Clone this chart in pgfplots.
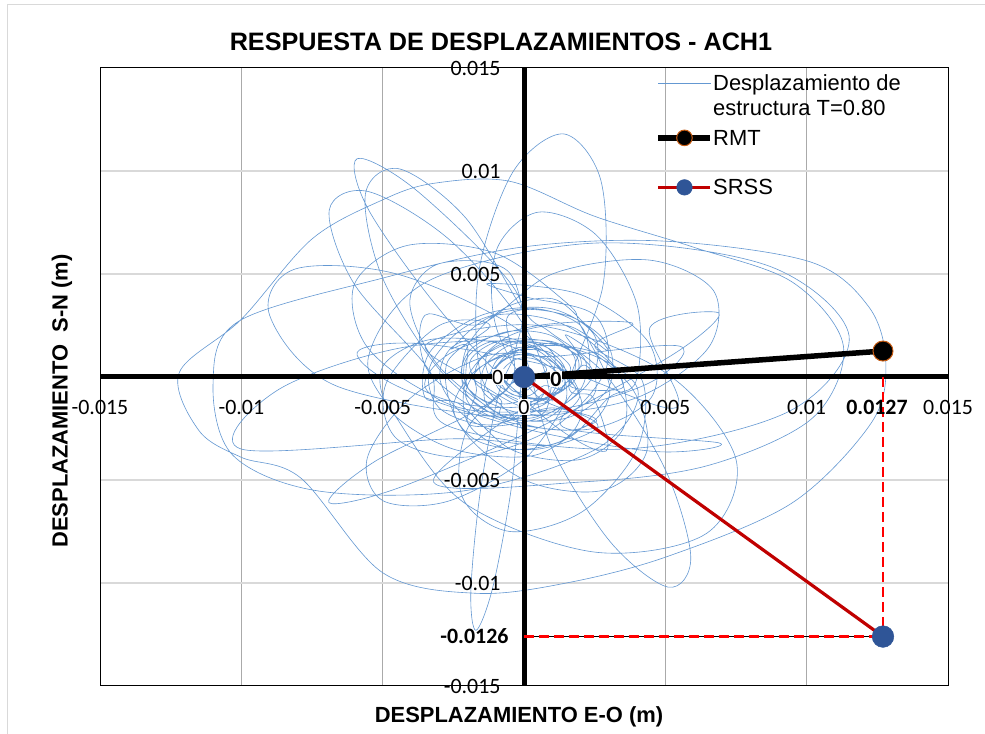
\documentclass[border=0pt]{standalone}
\usepackage{fontspec}
\setmainfont{Liberation Sans}
\newfontfamily\calibri{Carlito}
\usepackage{pgfplots}
\pgfplotsset{compat=1.18}
\definecolor{traj}{RGB}{100,152,210}
\definecolor{srssblue}{RGB}{47,85,151}
\definecolor{srssred}{RGB}{192,0,0}
\definecolor{rmtedge}{RGB}{197,90,17}
\definecolor{vgrid}{RGB}{170,170,170}
\definecolor{hgrid}{RGB}{217,217,217}
\newcommand{\tickf}{\calibri\fontsize{22}{24}\selectfont}
\newcommand{\tickb}{\calibri\bfseries\fontsize{22}{24}\selectfont}
\begin{document}
\begin{tikzpicture}
\path[use as bounding box] (0,0) rectangle (985bp,734bp);
\fill[white] (0,0) rectangle (985bp,734bp);
\draw[hgrid, line width=1bp] (7bp,0) -- (7bp,729bp) -- (985bp,729bp);
\node[font=\bfseries\fontsize{25.3}{29}\selectfont] at (501bp,692bp) {RESPUESTA DE DESPLAZAMIENTOS - ACH1};
\node[font=\bfseries\fontsize{22}{26}\selectfont] at (519bp,17bp) {DESPLAZAMIENTO E-O (m)};
\node[font=\bfseries\fontsize{22}{26}\selectfont, rotate=90] at (62bp,333bp) {DESPLAZAMIENTO\ \ S-N (m)};
\begin{axis}[
  at={(100bp,48bp)}, anchor=south west,
  scale only axis, width=848bp, height=618bp,
  xmin=-0.015, xmax=0.015, ymin=-0.015, ymax=0.015,
  xtick={-0.01,-0.005,0.005,0.01}, ytick={-0.01,-0.005,0.005,0.01},
  xticklabels={,,,}, yticklabels={,,,}, scaled ticks=false,
  major tick length=0pt,
  grid=major,
  x grid style={vgrid, line width=1.2bp},
  y grid style={hgrid, line width=1.6bp},
  axis line style={black, line width=1bp},
  clip=false,
  legend style={at={(axis cs:0.00466,0.01466)}, anchor=north west, draw=none, fill=none,
    font=\fontsize{22}{25}\selectfont, row sep=0bp, column sep=0bp, inner sep=0pt, outer sep=0pt,
    nodes={inner sep=0pt, outer sep=0pt}, cells={anchor=base west}},
  legend image code/.code={\draw[mark repeat=2,mark phase=2,#1] plot coordinates {(0bp,7.5bp) (26bp,7.5bp) (52bp,7.5bp)};},
  legend image post style={mark size=7.8bp},
]
\addplot[traj, line width=0.6bp, smooth, tension=0.55] table[x expr=\thisrow{x}/1000, y expr=\thisrow{y}/1000, row sep=\\] {
x y\\
0 0\\
0.8 0.3\\0.42 0.85\\-0.2 0.9\\-0.71 0.42\\-0.8 -0.3\\-0.42 -0.85\\0.2 -0.9\\0.71 -0.42\\
1.4 -0.6\\1.33 0.32\\0.6 1.0\\-0.37 1.03\\-1.0 0.4\\-0.93 -0.52\\-0.2 -1.2\\0.77 -1.23\\
1.0 -0.1\\1.07 1.05\\0.4 1.7\\-0.62 1.47\\-1.4 0.5\\-1.47 -0.65\\-0.8 -1.3\\0.22 -1.07\\
0.6 -1.1\\1.73 -0.27\\1.9 0.9\\1.02 1.71\\-0.4 1.7\\-1.53 0.87\\-1.7 -0.3\\-0.82 -1.11\\
-0.79 -1.9\\0.6 -2.1\\1.47 -1.19\\1.3 0.3\\0.19 1.5\\-1.2 1.7\\-2.07 0.79\\-1.9 -0.7\\
-0.3 -1.7\\1.43 -1.77\\2.5 -0.8\\2.28 0.64\\0.9 1.7\\-0.83 1.77\\-1.9 0.8\\-1.68 -0.64\\
-1.91 -2.33\\0.5 -2.0\\2.33 -0.21\\2.5 2.0\\0.91 3.33\\-1.5 3.0\\-3.33 1.21\\-3.5 -1.0\\
-2.3 -1.3\\-0.42 -3.54\\2.0 -4.0\\3.54 -2.41\\3.3 0.3\\1.42 2.54\\-1.0 3.0\\-2.54 1.41\\
-2.0 1.5\\-1.97 -0.56\\-0.5 -2.0\\1.56 -1.97\\3.0 -0.5\\2.97 1.56\\1.5 3.0\\-0.56 2.97\\
-0.6 -0.6\\-5.3 -4.12\\-6.9 -6.1\\-4.45 -5.39\\0.6 -2.4\\5.3 1.12\\6.9 3.1\\4.45 2.39\\
5.38 -1.49\\1.0 0.5\\-3.67 1.62\\-5.9 1.2\\-4.38 -0.51\\0.0 -2.5\\4.67 -3.62\\6.9 -3.2\\
1.5 -2.5\\1.97 -0.85\\1.0 1.0\\-0.85 1.97\\-2.5 1.5\\-2.97 -0.15\\-2.0 -2.0\\-0.15 -2.97\\
-0.2 -2.2\\-1.52 0.06\\-1.6 5.1\\-0.39 9.96\\1.4 11.8\\2.72 9.54\\2.8 4.5\\1.59 -0.36\\
2.46 -1.02\\2.9 -3.6\\0.76 -2.01\\-2.7 2.8\\-5.46 8.02\\-5.9 10.6\\-3.76 9.01\\-0.3 4.2\\
-0.3 1.3\\-0.89 -0.76\\-1.55 -5.6\\-1.88 -10.38\\-1.7 -12.3\\-1.11 -10.24\\-0.45 -5.4\\-0.12 -0.62\\
0.1 0.74\\1.0 -3.5\\3.07 -8.03\\5.1 -10.2\\5.9 -8.74\\5.0 -4.5\\2.93 0.03\\0.9 2.2\\
0.0 3.2\\-2.08 7.75\\-4.4 10.1\\-5.61 8.88\\-5.0 4.8\\-2.92 0.25\\-0.6 -2.1\\0.61 -0.88\\
-3.2 -5.1\\2.0 -5.1\\6.5 -4.3\\10.2 -2.0\\11.3 1.5\\9.5 4.6\\6.0 6.3\\2.5 7.8\\-0.5 9.5\\-3.2 9.4\\-5.0 8.6\\-7.5 6.7\\-10.0 2.8\\-12.2 0.2\\-11.5 -2.6\\-10.0 -3.9\\-7.9 -4.9\\
-5.0 -9.5\\-1.7 -10.5\\1.5 -10.0\\5.1 -8.7\\9.5 -6.1\\12.3 -2.2\\12.8 0.7\\12.2 3.4\\10.1 5.6\\4.9 6.6\\-0.1 6.3\\-5.0 4.8\\-10.1 2.7\\-11.0 -0.3\\-10.3 -3.8\\
-7.24 -5.54\\-2.0 -5.5\\2.66 -3.41\\4.0 -0.5\\1.24 1.54\\-4.0 1.5\\-8.66 -0.59\\-10.0 -3.5\\
-2.5 -3.0\\1.1 -3.24\\2.0 -1.0\\-0.32 2.41\\-4.5 5.0\\-8.1 5.24\\-9.0 3.0\\-6.68 -0.41\\
-0.5 -2.0\\0.89 -1.1\\0.0 2.5\\-2.65 6.68\\-5.5 9.0\\-6.89 8.1\\-6.0 4.5\\-3.35 0.32\\
-2.66 -2.39\\3.5 -3.5\\9.36 -1.68\\11.5 2.0\\8.66 5.39\\2.5 6.5\\-3.36 4.68\\-5.5 1.0\\
-4.5 -2.0\\-2.04 -6.18\\2.5 -8.5\\6.45 -7.6\\7.5 -4.0\\5.04 0.18\\0.5 2.5\\-3.45 1.6\\
-1.7 -0.2\\0.59 -1.68\\4.0 -1.0\\6.53 1.43\\6.7 4.2\\4.41 5.68\\1.0 5.0\\-1.53 2.57\\
-3.5 3.0\\-3.39 0.29\\-1.0 -2.0\\2.27 -2.54\\4.5 -1.0\\4.39 1.71\\2.0 4.0\\-1.27 4.54\\
0.06 3.89\\2.5 3.0\\2.89 0.35\\1.0 -2.5\\-2.06 -3.89\\-4.5 -3.0\\-4.89 -0.35\\-3.0 2.5\\
-1.2 2.5\\-2.74 0.62\\-2.2 -2.5\\0.09 -5.04\\2.8 -5.5\\4.34 -3.62\\3.8 -0.5\\1.51 2.04\\
2.0 0.5\\0.12 -1.39\\-3.0 -1.0\\-5.54 1.44\\-6.0 4.5\\-4.12 6.39\\-1.0 6.0\\1.54 3.56\\
2.0 2.5\\3.04 -0.62\\2.0 -2.5\\-0.5 -2.04\\-3.0 0.5\\-4.04 3.62\\-3.0 5.5\\-0.5 5.04\\
-0.06 0.54\\-2.0 -2.5\\-2.18 -5.83\\-0.5 -7.5\\2.06 -6.54\\4.0 -3.5\\4.18 -0.17\\2.5 1.5\\
3.83 2.62\\0.5 2.5\\-2.54 1.21\\-3.5 -0.5\\-1.83 -1.62\\1.5 -1.5\\4.54 -0.21\\5.5 1.5\\
1.0 1.0\\-1.29 1.04\\-4.0 -1.0\\-5.54 -3.91\\-5.0 -6.0\\-2.71 -6.04\\0.0 -4.0\\1.54 -1.09\\
1.68 -0.29\\-0.5 1.5\\-3.27 1.83\\-5.0 0.5\\-4.68 -1.71\\-2.5 -3.5\\0.27 -3.83\\2.0 -2.5\\
2.5 -2.0\\0.44 -0.89\\-1.0 2.5\\-0.97 6.18\\0.5 8.0\\2.56 6.89\\4.0 3.5\\3.97 -0.18\\
3.0 -1.0\\1.56 -2.97\\-0.5 -3.5\\-1.97 -2.27\\-2.0 0.0\\-0.56 1.97\\1.5 2.5\\2.97 1.27\\
2.12 2.63\\1.0 3.8\\-0.71 3.33\\-2.0 1.5\\-2.12 -0.63\\-1.0 -1.8\\0.71 -1.33\\2.0 0.5\\
2.33 0.5\\2.0 2.5\\0.21 3.33\\-2.0 2.5\\-3.33 0.5\\-3.0 -1.5\\-1.21 -2.33\\1.0 -1.5\\
2.62 -2.41\\0.5 -3.5\\-1.62 -3.12\\-2.5 -1.5\\-1.62 0.41\\0.5 1.5\\2.62 1.12\\3.5 -0.5\\
1.7 -0.5\\1.61 0.58\\0.7 1.5\\-0.51 1.71\\-1.3 1.1\\-1.21 0.02\\-0.3 -0.9\\0.91 -1.11\\
1.0 -1.0\\1.47 0.27\\0.9 1.2\\-0.37 1.26\\-1.6 0.4\\-2.07 -0.87\\-1.5 -1.8\\-0.23 -1.86\\
0.89 -1.76\\2.0 -0.6\\2.17 0.79\\1.3 1.6\\-0.09 1.36\\-1.2 0.2\\-1.37 -1.19\\-0.5 -2.0\\
0.2 -1.4\\1.5 -0.52\\1.8 0.9\\0.93 2.03\\-0.6 2.2\\-1.9 1.32\\-2.2 -0.1\\-1.33 -1.23\\
-0.8 -0.8\\0.07 -1.2\\0.9 -0.9\\1.2 -0.07\\0.8 0.8\\-0.07 1.2\\-0.9 0.9\\-1.2 0.07\\
-0.83 0.77\\-0.3 1.4\\0.58 1.33\\1.3 0.6\\1.43 -0.37\\0.9 -1.0\\0.02 -0.93\\-0.7 -0.2\\
-0.38 -0.69\\0.0 -0.7\\0.32 -0.41\\0.4 0.0\\0.18 0.29\\-0.2 0.3\\-0.52 0.01\\-0.6 -0.4\\
0 0\\
};
\addlegendentry{\vtop{\hbox{Desplazamiento de}\hbox{estructura T=0.80}}}
\addplot[black, line width=5bp, forget plot] coordinates {(-0.015,0) (0.015,0)};
\addplot[black, line width=5bp, forget plot] coordinates {(0,-0.015) (0,0.015)};
\addplot[black, line width=0.8bp, forget plot] coordinates {(0,-0.0126) (0.0127,-0.0126)};
\addplot[red, line width=2.8bp, dash pattern=on 10bp off 5bp, forget plot] coordinates {(0,-0.0126) (0.0127,-0.0126)};
\addplot[red, line width=2.8bp, dash pattern=on 10bp off 5bp, forget plot] coordinates {(0.0127,0) (0.0127,-0.0126)};
\addplot[black, line width=5.5bp, mark=*, mark size=10bp, mark options={fill=black, draw=rmtedge, line width=1bp}] coordinates {(0,0) (0.0127,0.00126)};
\addlegendentry{\raisebox{0pt}[53bp][0pt]{RMT}}
\addplot[srssred, line width=3.2bp, mark=*, mark size=10.8bp, mark options={fill=srssblue, draw=srssblue, line width=0.5bp}] coordinates {(0,0) (0.0127,-0.0126)};
\addlegendentry{\raisebox{0pt}[48bp][0pt]{SRSS}}
% tick labels
\node[font=\tickf, yshift=-30bp] at (axis cs:-0.015,0) {-0.015};
\node[font=\tickf, yshift=-30bp] at (axis cs:-0.01,0) {-0.01};
\node[font=\tickf, yshift=-30bp] at (axis cs:-0.005,0) {-0.005};
\node[font=\tickf, yshift=-30bp, fill=white, inner sep=0.5bp] at (axis cs:0,0) {0};
\node[font=\tickf, yshift=-30bp] at (axis cs:0.005,0) {0.005};
\node[font=\tickf, yshift=-30bp] at (axis cs:0.01,0) {0.01};
\node[font=\tickf, yshift=-30bp] at (axis cs:0.015,0) {0.015};
\node[font=\tickf, anchor=east, xshift=-20bp] at (axis cs:0,0.015) {0.015};
\node[font=\tickf, anchor=east, xshift=-20bp] at (axis cs:0,0.01) {0.01};
\node[font=\tickf, anchor=east, xshift=-20bp] at (axis cs:0,0.005) {0.005};
\node[font=\tickf, anchor=east, xshift=-20bp, fill=white, inner sep=0.5bp] at (axis cs:0,0) {0};
\node[font=\tickf, anchor=east, xshift=-20bp] at (axis cs:0,-0.005) {-0.005};
\node[font=\tickf, anchor=east, xshift=-20bp] at (axis cs:0,-0.01) {-0.01};
\node[font=\tickf, anchor=east, xshift=-20bp] at (axis cs:0,-0.015) {-0.015};
% data labels
\node[font=\tickb, xshift=-6bp, yshift=-30bp] at (axis cs:0.0127,0) {0.0127};
\node[font=\tickb, anchor=east, xshift=-12bp] at (axis cs:0,-0.0126) {-0.0126};
\node[font=\tickb, xshift=32bp, yshift=-2bp, fill=white, inner sep=0.5bp] at (axis cs:0,0) {0};
\end{axis}
\end{tikzpicture}
\end{document}
